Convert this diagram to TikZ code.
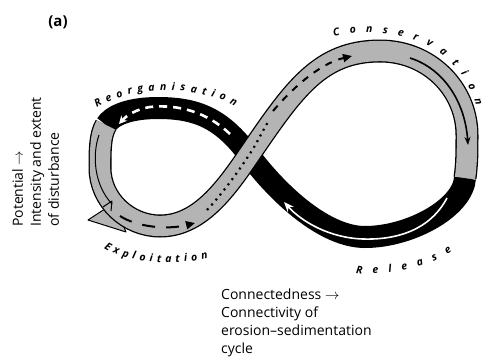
\documentclass[tikz,border=0pt]{standalone}
\usepackage{fontspec}
\setmainfont{Open Sans}
\usetikzlibrary{arrows.meta,decorations.text}
\definecolor{greyband}{RGB}{180,180,180}

\begin{document}
\begin{tikzpicture}[x=1pt,y=-1pt,
  blackband/.style={line width=22pt},
  greyedge/.style={line width=23pt},
  greyfill/.style={line width=20.4pt,greyband},
  phaselabel/.style={decorate,decoration={text along path,text align=fit to path,
    text={|\bfseries\itshape\fontsize{10.5}{11}\selectfont|#1}}},
  axislabel/.style={align=left,inner sep=0pt,font=\fontsize{14}{18}\selectfont}]
\useasboundingbox (0,0) rectangle (483,360);

\coordinate (A) at (106,125);
\coordinate (L) at (100,168);
\coordinate (B) at (160,226);
\coordinate (C) at (249,155);
\coordinate (T) at (380,51);
\coordinate (R) at (467,135);
\coordinate (Q) at (465,178);
\coordinate (BR) at (365,237);
\coordinate (TL) at (158,108);

\draw[blackband] (Q) .. controls +(-2,30) and +(45,0) .. (BR)
  .. controls +(-40,0) and +(30,40) .. (C)
  .. controls +(-27,-36) and +(40,0) .. (TL)
  .. controls +(-28,0) and +(6,-10) .. (A);
\draw[white,line width=1.6pt,-{Stealth[length=10pt,width=8pt]}] (447,198) .. controls (430,230) and (397,240) .. (363,239)
  .. controls (330,238) and (302,222) .. (284,202);
\draw[white,line width=2.6pt,dash pattern=on 8pt off 6pt,-{Stealth[length=8pt,width=8pt]}] (230,134) .. controls (207,112) and (178,104) .. (150,107)
  .. controls (137,109) and (127,115) .. (119,124);

\draw[fill=greyband,line width=1pt,line join=round] (114,203) -- (88,220) -- (126,232) -- cycle;
\foreach \s in {greyedge,greyfill}{
  \draw[\s] (A) .. controls +(-6,10) and +(0,-18) .. (L)
    .. controls +(0,32) and +(-32,0) .. (B)
    .. controls +(38,0) and +(-25,37) .. (C)
    .. controls +(45,-66) and +(-60,0) .. (T)
    .. controls +(50,0) and +(0,-45) .. (R)
    .. controls +(0,18) and +(2,-15) .. (Q);
}
\draw[line width=1pt] (99,135) .. controls (92,155) and (94,185) .. (112,204);
\draw[line width=1pt,line join=round] (103,207) -- (112,201) -- (111,211);

\draw[line width=2pt,dash pattern=on 13pt off 11pt,-{Triangle[length=9pt,width=8pt]}] (120,216) .. controls (137,227) and (167,230) .. (195,223);
\draw[line width=2.2pt,dash pattern=on 2pt off 4.5pt] (207,210) .. controls (222,194) and (238,172) .. (C)
  .. controls (256,145) and (262,132) .. (268,122);
\draw[line width=2pt,dash pattern=on 7pt off 7pt,-{Triangle[length=9pt,width=8pt]}] (273,111) .. controls (290,91) and (318,64) .. (352,56);
\draw[line width=1.6pt,-{Stealth[length=8pt,width=6pt]}] (410,58) .. controls (442,68) and (465,100) .. (468,145);

\path[phaselabel=Reorganisation] (97,108) .. controls (130,86) and (195,84) .. (235,106);
\path[phaselabel=Conservation] (334,37) .. controls (395,22) and (460,45) .. (476,106);
\path[phaselabel=Exploitation] (104,248) .. controls (125,262) and (170,267) .. (208,258);
\path[phaselabel=Release] (356,273) .. controls (385,277) and (428,268) .. (452,251);

\node[font=\bfseries\fontsize{15}{15}\selectfont] (panel) at (58,22) {(a)};
\node[axislabel,rotate=90,anchor=north west] (potential) at (12,227) {Potential $\rightarrow$\\Intensity and extent\\of disturbance};
\node[axislabel,anchor=north west] (connect) at (221,289) {Connectedness $\rightarrow$\\Connectivity of\\erosion--sedimentation\\cycle};
\end{tikzpicture}
\end{document}
